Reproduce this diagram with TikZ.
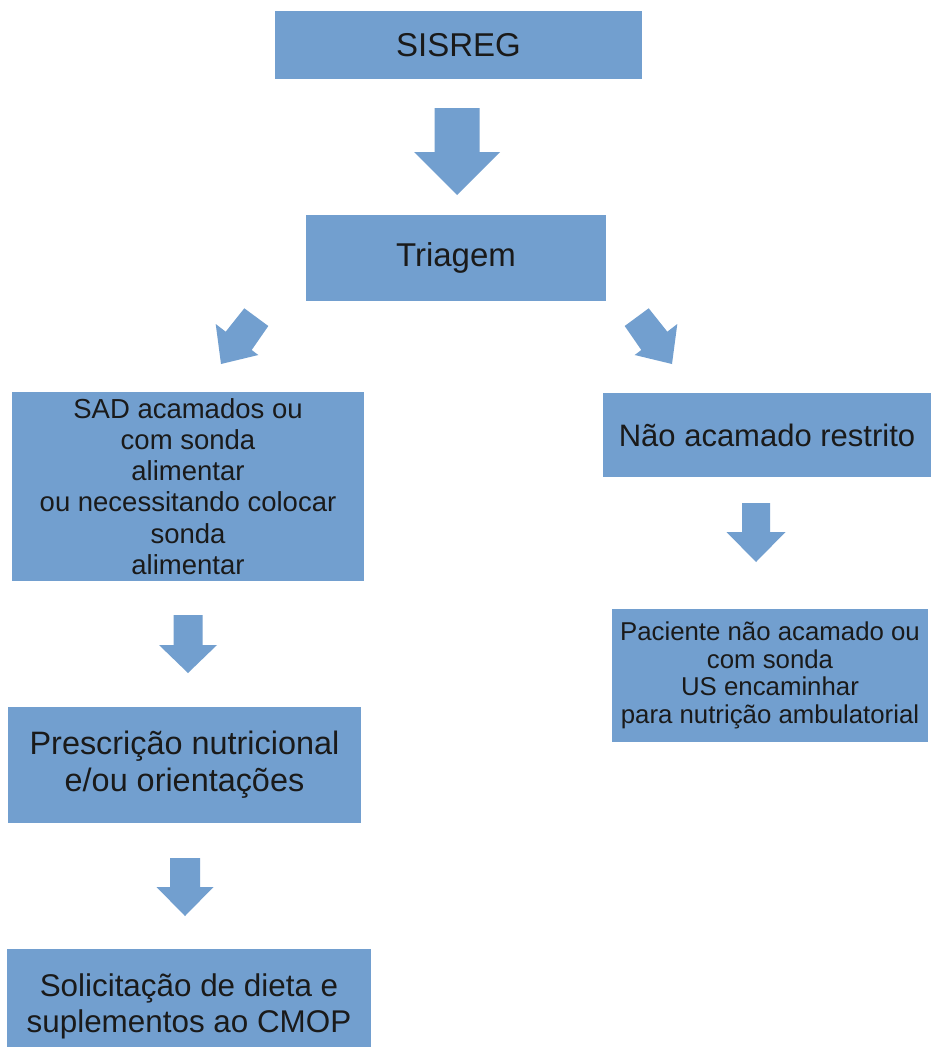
\documentclass[tikz,border=0pt]{standalone}
\usepackage{fontspec}
\setmainfont{Liberation Sans}
\definecolor{boxblue}{HTML}{729FCF}
\definecolor{txtdark}{HTML}{1A1A1A}
\newcommand{\fsz}[2]{\fontsize{#1}{#2}\selectfont}
% cx, shaft top, shaft half width, head half width, head top, tip
\newcommand{\downblock}[6]{%
  \fill[blockarrow] (#1-#3,#2) -- (#1+#3,#2) -- (#1+#3,#5) -- (#1+#4,#5)
    -- (#1,#6) -- (#1-#4,#5) -- (#1-#3,#5) -- cycle;}
\tikzset{
  flowbox/.style={fill=boxblue, text=txtdark, align=center, inner sep=0pt},
  blockarrow/.style={fill=boxblue},
}
\begin{document}
\begin{tikzpicture}[x=1pt, y=-1pt]
\useasboundingbox (0,0) rectangle (931,1047);
\fill[white] (0,0) rectangle (931,1047);

% boxes
\node[flowbox, minimum width=367pt, minimum height=68pt, font=\fsz{33}{38}]
  (sisreg) at (458.5,45) {SISREG};
\node[flowbox, minimum width=300pt, minimum height=86pt, font=\fsz{33}{38}]
  (triagem) at (456,258) {Triagem};
\node[flowbox, minimum width=352pt, minimum height=189pt, font=\fsz{27.5}{31.2}]
  (sad) at (188,486.5) {SAD acamados ou\\com sonda\\alimentar\\ou necessitando colocar\\sonda\\alimentar};
\node[flowbox, minimum width=328pt, minimum height=84pt, font=\fsz{31}{36}]
  (nao) at (767,435) {Não acamado restrito};
\node[flowbox, minimum width=316pt, minimum height=133pt, font=\fsz{25.8}{27.7}]
  (paciente) at (770,675.5) {Paciente não acamado ou\\com sonda\\US encaminhar\\para nutrição ambulatorial};
\node[flowbox, minimum width=353pt, minimum height=116pt, font=\fsz{32.4}{37}]
  (presc) at (184.5,765) {Prescrição nutricional\\e/ou orientações};
\node[flowbox, minimum width=364pt, minimum height=114pt, font=\fsz{31.4}{36}]
  (solic) at (189,1006) {Solicitação de dieta e\\suplementos ao CMOP};

% block arrows
\downblock{457}{108}{22.5}{43}{152}{195}
\downblock{756}{503}{14}{29.5}{532}{562}
\downblock{188}{615}{14.5}{29}{645}{673}
\downblock{185}{858}{15}{28.5}{887}{916}

% diagonal block arrows
\fill[blockarrow] (244.3,308.3) -- (268.3,326) -- (251.7,350) -- (258.3,355)
  -- (221,364) -- (215.7,324) -- (225.7,331.7) -- cycle;
\fill[blockarrow] (648.7,308.3) -- (624.7,326) -- (641.3,350) -- (634.7,355)
  -- (672,364) -- (677.3,324) -- (667.3,331.7) -- cycle;
\end{tikzpicture}
\end{document}
